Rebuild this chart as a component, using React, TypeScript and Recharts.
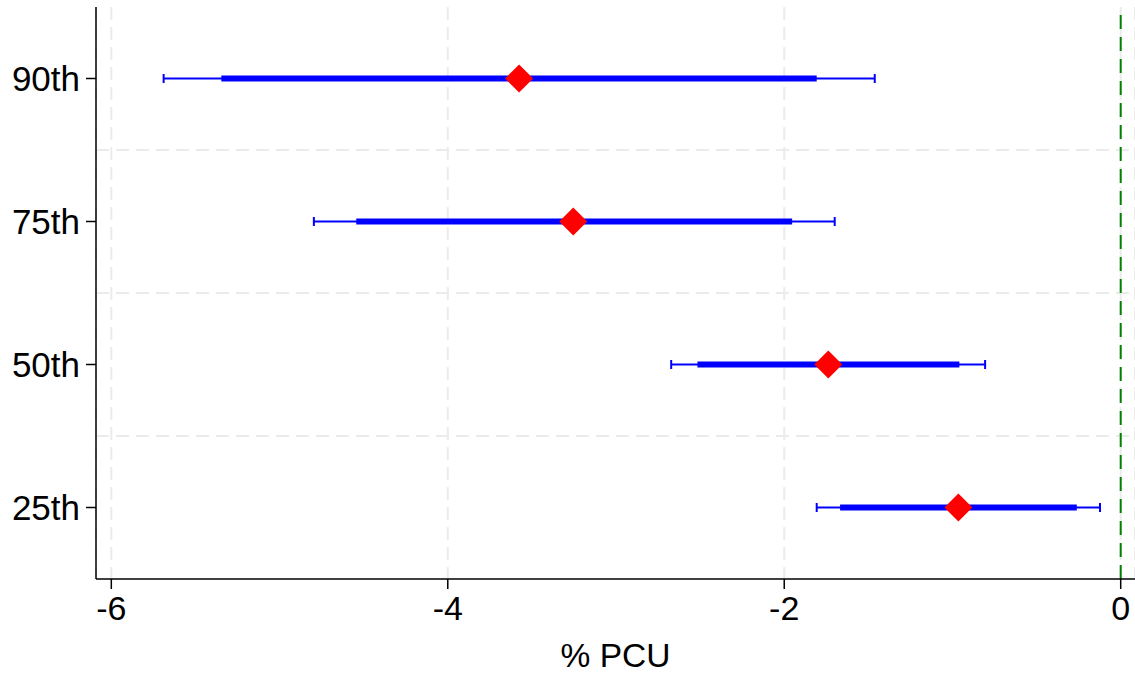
import React from "react";
import {
  ScatterChart,
  Scatter,
  XAxis,
  YAxis,
  CartesianGrid,
  ErrorBar,
  ReferenceLine,
} from "recharts";

const categories = ["25th", "50th", "75th", "90th"];
const positions = [1, 2, 3, 4];
const estimates = [-0.965, -1.738, -3.254, -3.576];
const innerLow = [-1.668, -2.516, -4.544, -5.346];
const innerHigh = [-0.261, -0.959, -1.953, -1.807];
const outerLow = [-1.807, -2.672, -4.796, -5.689];
const outerHigh = [-0.123, -0.806, -1.7, -1.462];
const xTicks = [-6, -4, -2, 0];
const yTicks = [1, 2, 3, 4];
const gridY = [1.5, 2.5, 3.5];

const data = categories.map((c, i) => ({
  cat: c,
  y: positions[i],
  x: estimates[i],
  thin: [estimates[i] - outerLow[i], outerHigh[i] - estimates[i]],
  thick: [estimates[i] - innerLow[i], innerHigh[i] - estimates[i]],
}));

const FONT = "'Liberation Sans', Arial, Helvetica, sans-serif";

const Diamond = (props: any) => {
  const { cx, cy } = props;
  if (cx == null || cy == null) return null;
  const r = 14;
  return (
    <polygon
      points={`${cx},${cy - r} ${cx + r},${cy} ${cx},${cy + r} ${cx - r},${cy}`}
      fill="#ff0000"
    />
  );
};

export default function App() {
  return (
    <div style={{ position: "absolute", left: 0, top: 0, background: "#fff" }}>
      <ScatterChart
        width={1135}
        height={673}
        margin={{ top: 7, right: 0, bottom: 0, left: 0 }}
      >
        <CartesianGrid
          horizontal={false}
          vertical={true}
          stroke="#ebebeb"
          strokeWidth={2}
          strokeDasharray="13 7"
        />
        {gridY.map((g) => (
          <ReferenceLine
            key={g}
            y={g}
            stroke="#ebebeb"
            strokeWidth={2}
            strokeDasharray="13 7"
          />
        ))}
        <ReferenceLine
          x={0}
          stroke="#008000"
          strokeWidth={2}
          strokeDasharray="14 8"
        />
        <XAxis
          type="number"
          dataKey="x"
          domain={[-6.091, 0.085]}
          allowDataOverflow
          ticks={xTicks}
          height={94}
          tickSize={10}
          tickMargin={7}
          stroke="#000"
          strokeWidth={1.5}
          tick={{ fill: "#000", fontSize: 34, fontFamily: FONT }}
          label={{
            value: "% PCU",
            position: "insideBottom",
            offset: 6,
            fill: "#000",
            fontSize: 33.5,
            fontFamily: FONT,
          }}
        />
        <YAxis
          type="number"
          dataKey="y"
          domain={[0.5, 4.5]}
          allowDataOverflow
          ticks={yTicks}
          tickFormatter={(v: number) => categories[v - 1]}
          width={96}
          tickSize={10}
          tickMargin={6}
          stroke="#000"
          strokeWidth={1.5}
          tick={{ fill: "#000", fontSize: 35, fontFamily: FONT }}
        />
        <Scatter data={data} shape={<Diamond />} isAnimationActive={false}>
          <ErrorBar
            dataKey="thin"
            direction="x"
            width={4.5}
            stroke="#0000ff"
            strokeWidth={2}
          />
          <ErrorBar
            dataKey="thick"
            direction="x"
            width={0}
            stroke="#0000ff"
            strokeWidth={6}
          />
        </Scatter>
      </ScatterChart>
    </div>
  );
}
